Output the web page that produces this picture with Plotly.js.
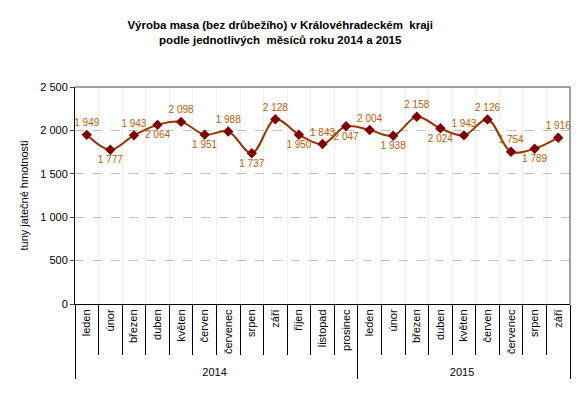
<!DOCTYPE html>
<html>
<head>
<meta charset="utf-8">
<script src="https://cdn.plot.ly/plotly-3.0.1.min.js"></script>
<style>
  body { margin: 0; background: #fff; }
  #chart { width: 585px; height: 417px; }
</style>
</head>
<body>
<div id="chart"></div>
<script>
var years = ['2014', '2014', '2014', '2014', '2014', '2014', '2014', '2014', '2014', '2014', '2014', '2014',
  '2015', '2015', '2015', '2015', '2015', '2015', '2015', '2015', '2015'];
var months = ['leden', 'únor', 'březen', 'duben', 'květen', 'červen', 'červenec', 'srpen', 'září', 'říjen', 'listopad', 'prosinec',
  'leden', 'únor', 'březen', 'duben', 'květen', 'červen', 'červenec', 'srpen', 'září'];
var production = [1949, 1777, 1943, 2064, 2098, 1951, 1988, 1737, 2128, 1950, 1843, 2047,
  2004, 1938, 2158, 2024, 1943, 2126, 1754, 1789, 1916];
var labelPos = ['top center', 'bottom center', 'top center', 'bottom center', 'top center', 'bottom center',
  'top center', 'bottom center', 'top center', 'bottom center', 'top center', 'bottom center',
  'top center', 'bottom center', 'top center', 'bottom center', 'top center', 'top center',
  'top center', 'bottom center', 'top center'];

var data = [{
	type: 'scatter',
	mode: 'lines+markers+text',
	x: [years, months],
	y: production,
	line: { color: '#993300', width: 2, shape: 'spline', smoothing: 1 },
	marker: { symbol: 'diamond', size: 8, color: '#7f0000' },
	texttemplate: '%{y:,d}',
	textposition: labelPos,
	textfont: { family: 'Liberation Sans, Arial, sans-serif', size: 10, color: '#c05a00' },
	cliponaxis: false,
	hoverinfo: 'none'
}];

var layout = {
	width: 585,
	height: 417,
	separators: ', ',
	margin: { l: 75, r: 15, t: 87, b: 113 },
	paper_bgcolor: '#ffffff',
	plot_bgcolor: '#ffffff',
	showlegend: false,
	font: { family: 'Liberation Sans, Arial, sans-serif', size: 11, color: '#000000' },
	title: {
		text: '<b>Výroba masa (bez drůbežího) v Královéhradeckém  kraji<br>podle jednotlivých  měsíců roku 2014 a 2015</b>',
		font: { size: 11.5, color: '#000000' },
		x: 0.479,
		xanchor: 'center',
		y: 0.93,
		yanchor: 'top'
	},
	xaxis: {
		type: 'multicategory',
		range: [-0.5, 20.5],
		tickangle: -90,
		showline: true,
		linecolor: '#000000',
		linewidth: 1,
		ticks: 'outside',
		ticklen: 50,
		tickcolor: '#000000',
		showdividers: true,
		dividercolor: '#000000',
		dividerwidth: 1,
		tickfont: { size: 11 },
		mirror: false
	},
	yaxis: {
		range: [0, 2500],
		dtick: 500,
		tickformat: ',d',
		showline: true,
		linecolor: '#000000',
		ticks: 'outside',
		ticklen: 4,
		gridcolor: '#bfbfbf',
		griddash: 'dash',
		zeroline: false,
		tickfont: { size: 11 },
		title: { text: 'tuny jatečné hmotnosti', font: { size: 11 }, standoff: 9 }
	},
	shapes: [
		{ type: 'line', xref: 'paper', yref: 'paper', x0: 0, x1: 1, y0: 1, y1: 1, line: { color: '#808080', width: 1.5 } },
		{ type: 'line', xref: 'paper', yref: 'paper', x0: 1, x1: 1, y0: 0, y1: 1, line: { color: '#808080', width: 1.5 } }
	]
};

Plotly.newPlot('chart', data, layout, { displayModeBar: false, staticPlot: true });
</script>
</body>
</html>
